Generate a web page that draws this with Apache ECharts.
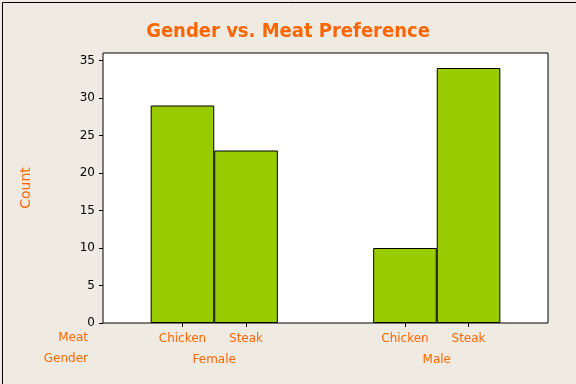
<!DOCTYPE html>
<html>
<head>
<meta charset="utf-8">
<script src="https://cdn.jsdelivr.net/npm/echarts@6/dist/echarts.min.js"></script>
<style>
html,body{margin:0;padding:0;background:#EFEBE2;}
#c{width:576px;height:384px;}
</style>
</head>
<body>
<div id="c"></div>
<script>
// Data
const genders = ['Female', 'Male'];
const meats = ['Chicken', 'Steak'];
const counts = [[29, 23], [10, 34]];           // counts[gender][meat]
const yTicks = [0, 5, 10, 15, 20, 25, 30, 35];

// Layout positions along hidden x scale (in bar-width units)
const barPos = [[1.25, 2.25], [4.75, 5.75]];
const groupPos = [1.75, 5.25];

const barData = [];
const meatTickVals = [];
const meatLabelMap = {};
genders.forEach((g, gi) => {
  meats.forEach((m, mi) => {
    const x = barPos[gi][mi];
    barData.push([x, counts[gi][mi]]);
    meatTickVals.push(x);
    meatLabelMap[x] = m;
  });
});
const genderLabelMap = {};
groupPos.forEach((x, i) => genderLabelMap[x] = genders[i]);

const orange = '#FF6600';
const font = 'DejaVu Sans, sans-serif';

const chart = echarts.init(document.getElementById('c'));
chart.setOption({
  backgroundColor: '#EFEBE2',
  animation: false,
  title: {
    text: 'Gender vs. Meat Preference',
    left: 'center',
    top: 17,
    textStyle: { color: orange, fontSize: 20, fontWeight: 'bold', fontFamily: 'DejaVu Sans Condensed, DejaVu Sans, sans-serif' }
  },
  grid: {
    left: 103, right: 28, top: 53, bottom: 61,
    show: true, backgroundColor: '#FFFFFF', borderColor: '#000000', borderWidth: 1
  },
  xAxis: [{
    type: 'value', min: 0, max: 7,
    axisLine: { show: false },
    splitLine: { show: false },
    axisTick: { show: true, length: 4, lineStyle: { color: '#000' }, customValues: meatTickVals },
    axisLabel: {
      show: true, customValues: meatTickVals, margin: 10,
      color: orange, fontSize: 12, fontFamily: font,
      formatter: v => meatLabelMap[v] || ''
    }
  }, {
    type: 'value', min: 0, max: 7, position: 'bottom', offset: 21,
    axisLine: { show: false },
    splitLine: { show: false },
    axisTick: { show: false },
    axisLabel: {
      show: true, customValues: groupPos, margin: 10,
      color: orange, fontSize: 12, fontFamily: font,
      formatter: v => genderLabelMap[v] || ''
    }
  }],
  yAxis: {
    type: 'value', min: 0, max: 36,
    name: 'Count', nameLocation: 'middle', nameGap: 70,
    nameTextStyle: { color: orange, fontSize: 14, fontWeight: 'normal', fontFamily: font },
    axisLine: { show: false },
    splitLine: { show: false },
    axisTick: { show: true, length: 4, lineStyle: { color: '#000' }, customValues: yTicks },
    axisLabel: { customValues: yTicks, margin: 8, color: '#000', fontSize: 12, fontFamily: font }
  },
  graphic: [
    { type: 'text', right: 576 - 88, top: 332, style: { text: 'Meat', fill: orange, font: '12px ' + font, textAlign: 'right' } },
    { type: 'text', right: 576 - 88, top: 353, style: { text: 'Gender', fill: orange, font: '12px ' + font, textAlign: 'right' } },
    { type: 'rect', left: 0, top: 0, z: 100, shape: { x: 0.5, y: 0.5, width: 575, height: 383 }, style: { fill: 'none', stroke: '#000', lineWidth: 1 } }
  ],
  series: [{
    type: 'bar',
    xAxisIndex: 0,
    data: barData,
    barWidth: 63.6,
    itemStyle: { color: '#99CC00', borderColor: '#000', borderWidth: 1 }
  }]
});
</script>
</body>
</html>
